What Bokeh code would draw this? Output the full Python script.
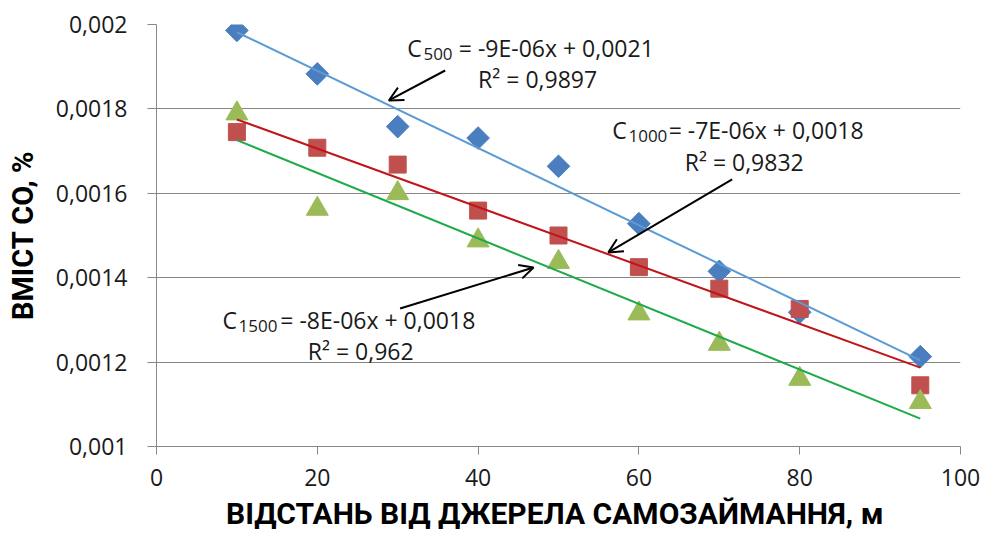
import numpy as np
from bokeh.plotting import figure
from bokeh.models import Range1d, FixedTicker, CustomJSTickFormatter, Arrow, OpenHead
from bokeh.embed import file_html
from bokeh.resources import INLINE
from bokeh.core.properties import value

# ---- data ----
distance = [10, 20, 30, 40, 50, 60, 70, 80, 95]
co_500 = [0.001986, 0.001883, 0.001758, 0.001731, 0.001664, 0.001528, 0.001415, 0.001318, 0.001213]
co_1000 = [0.001745, 0.001708, 0.001668, 0.001559, 0.001500, 0.001425, 0.001374, 0.001326, 0.001145]
co_1500 = [0.001789, 0.001563, 0.001600, 0.001488, 0.001437, 0.001315, 0.001243, 0.001160, 0.001105]

x_ticks = [0, 20, 40, 60, 80, 100]
y_ticks = [0.001, 0.0012, 0.0014, 0.0016, 0.0018, 0.002]

eq_symbol = ["C", "C", "C"]
eq_subscript = ["500", "1000", "1500"]
eq_rest = ["= -9E-06x + 0,0021", "= -7E-06x + 0,0018", "= -8E-06x + 0,0018"]
r2_labels = ["R\u00b2 = 0,9897", "R\u00b2 = 0,9832", "R\u00b2 = 0,962"]

x_title = "ВІДСТАНЬ ВІД ДЖЕРЕЛА  САМОЗАЙМАННЯ, м"
y_title = "ВМІСТ СО, %"

# ---- figure ----
p = figure(width=985, height=533, output_backend="svg", toolbar_location=None,
           x_range=Range1d(0, 100), y_range=Range1d(0.001, 0.002),
           min_border_left=156, min_border_right=25, min_border_top=24, min_border_bottom=87)
p.outline_line_color = None
p.background_fill_color = "white"
p.border_fill_color = "white"

grid_col = "#878787"
p.xgrid.grid_line_color = None
p.ygrid.grid_line_color = grid_col
p.ygrid.grid_line_width = 1
p.ygrid.ticker = FixedTicker(ticks=y_ticks)

p.xaxis.ticker = FixedTicker(ticks=x_ticks)
p.yaxis.ticker = FixedTicker(ticks=y_ticks)
p.yaxis.formatter = CustomJSTickFormatter(
    code="return tick.toFixed(4).replace(/0+$/, '').replace('.', ',');")

for ax in (p.xaxis, p.yaxis):
    ax.axis_line_color = grid_col
    ax.major_tick_line_color = grid_col
    ax.minor_tick_line_color = None
    ax.major_tick_in = 0
    ax.major_label_text_font = "Open Sans"
    ax.major_label_text_font_size = "23px"
    ax.major_label_text_color = "#1a1a1a"
    ax.axis_label_text_font = "Roboto"
    ax.axis_label_text_font_style = "bold"
    ax.axis_label_text_color = "#000000"

p.xaxis.axis_label_text_font_size = "30px"
p.yaxis.axis_label_text_font_size = "29px"
p.xaxis.major_tick_out = 8
p.yaxis.major_tick_out = 9
p.xaxis.major_label_standoff = 14
p.yaxis.major_label_standoff = 20
p.xaxis.axis_label = x_title
p.yaxis.axis_label = y_title
p.xaxis.axis_label_standoff = 7
p.yaxis.axis_label_standoff = 13

# ---- markers ----
p.scatter(distance, co_500, marker="square", size=16, angle=np.pi / 4,
          fill_color="#4A7EBF", line_color="#4A7EBF")
p.scatter(distance, co_1000, marker="square", size=17,
          fill_color="#C0504D", line_color="#C0504D")
p.scatter(distance, co_1500, marker="triangle", size=22,
          fill_color="#9BBB59", line_color="#9BBB59")

# ---- linear trendlines (least squares on the series) ----
x_fit = np.array([distance[0], distance[-1]], dtype=float)
for ys, col in ((co_500, "#5B9BD5"), (co_1000, "#C0161B"), (co_1500, "#1FAA4B")):
    k, b = np.polyfit(distance, ys, 1)
    p.line(x_fit, k * x_fit + b, line_color=col, line_width=2)

# ---- annotations (trendline equations) ----
txt = dict(text_font=value("Open Sans"), text_color="#1a1a1a", text_baseline="middle")
eq_y = [0.001945, 0.001749, 0.001299]
sym_x = [31.2, 56.7, 8.2]
sub_x = [33.2, 58.7, 10.2]
rest_x = [37.6, 63.7, 15.4]
p.text(x=sym_x, y=eq_y, text=eq_symbol, text_align="left", text_font_size="23px", **txt)
p.text(x=sub_x, y=eq_y, text=eq_subscript, text_align="left", text_font_size="17px",
       y_offset=6, **txt)
p.text(x=rest_x, y=eq_y, text=eq_rest, text_align="left", text_font_size="23px", **txt)

r2_x = [47.4, 73.1, 25.4]
r2_y = [0.001872, 0.001673, 0.001227]
p.text(x=r2_x, y=r2_y, text=r2_labels, text_align="center", text_font_size="23px", **txt)

arrows = [((35.9, 0.001891), (28.9, 0.00182)),
          ((71.6, 0.001633), (56.2, 0.00146)),
          ((30.3, 0.001327), (46.9, 0.001424))]
for (xs, ys), (xe, ye) in arrows:
    p.add_layout(Arrow(end=OpenHead(size=14, line_width=2, line_color="black"),
                       x_start=xs, y_start=ys, x_end=xe, y_end=ye,
                       line_width=2, line_color="black"))

open("out.html", "w").write(file_html(p, INLINE))
